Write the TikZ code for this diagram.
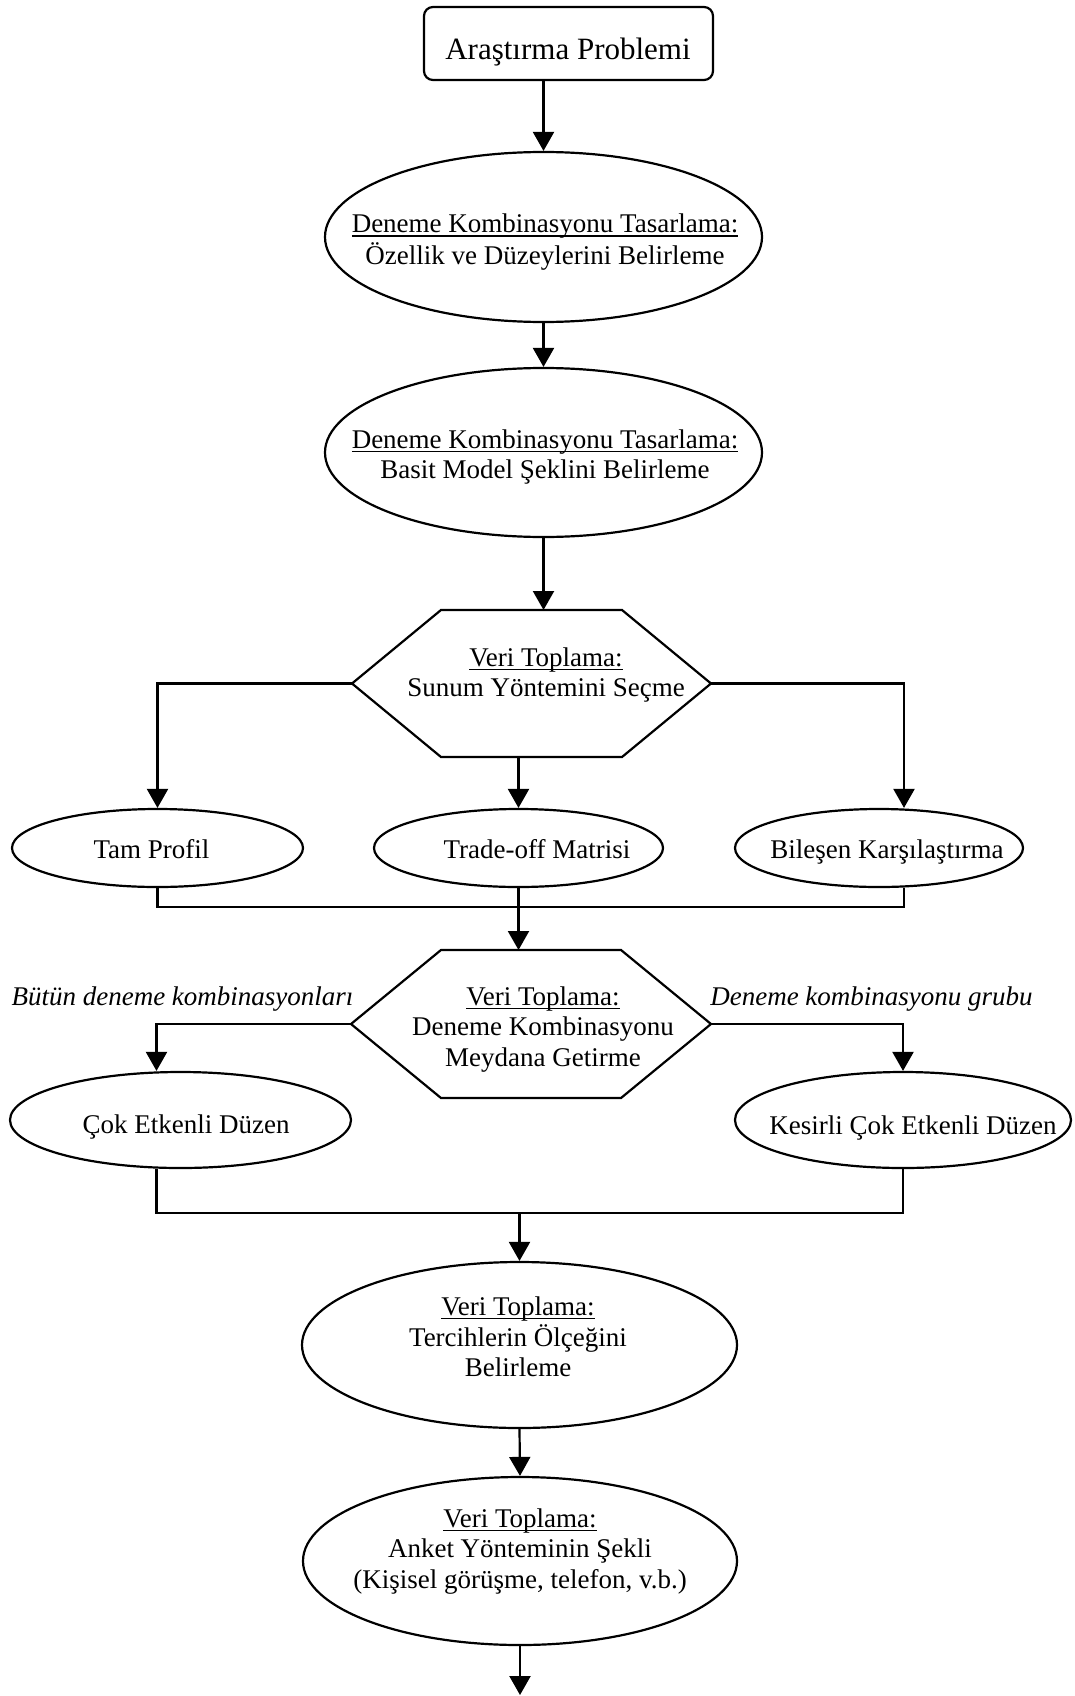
\documentclass[tikz,border=0pt]{standalone}
\usepackage{fontspec}
\setmainfont{Liberation Serif}
\usetikzlibrary{shapes.geometric,arrows.meta}
\newsavebox\ulbox
\newcommand\ulin[1]{\sbox\ulbox{#1}\rlap{\rule[-4pt]{\wd\ulbox}{1.5pt}}\usebox\ulbox}
\newcommand\mls[1]{\begin{tabular}[t]{@{}c@{}}#1\end{tabular}}
\begin{document}
\begin{tikzpicture}[x=1pt,y=-1pt,
  every node/.style={inner sep=0pt},
  ln/.style={line width=2.2pt},
  arr/.style={ln,-{Triangle[length=19pt,width=21pt]}},
  shp/.style={draw,line width=2.2pt},
  ell/.style={shp,ellipse},
  hexbox/.style={inner sep=0pt,outer sep=0pt},
  txt/.style={font=\fontsize{27}{30.5}\selectfont,anchor=base},
  itxt/.style={font=\fontsize{27}{30.5}\selectfont\itshape,anchor=base},
]
\useasboundingbox (0,0) rectangle (1074,1696);
\fill[white] (0,0) rectangle (1074,1696);

% top box
\node[shp,rounded corners=9pt,minimum width=289pt,minimum height=73pt] (tb) at (568.5,43.5) {};
\node[font=\fontsize{31}{36}\selectfont,anchor=base] (tbt) at (568,60) {Araştırma Problemi};

% ellipse 1
\node[ell,minimum width=437pt,minimum height=170pt] (e1) at (543.5,237) {};
\node[txt] (e1t) at (545,233) {\mls{\ulin{Deneme Kombinasyonu Tasarlama:}\\Özellik ve Düzeylerini Belirleme}};

% ellipse 2
\node[ell,minimum width=437pt,minimum height=169pt] (e2) at (543.5,452.5) {};
\node[txt] (e2t) at (545,448) {\mls{\ulin{Deneme Kombinasyonu Tasarlama:}\\Basit Model Şeklini Belirleme}};

% hexagon 1
\node[hexbox,minimum width=359pt,minimum height=147pt] (h1) at (531.5,683.5) {};
\draw[ln] (h1.west) -- ([xshift=89pt]h1.north west) -- ([xshift=-89pt]h1.north east)
  -- (h1.east) -- ([xshift=-89pt]h1.south east) -- ([xshift=89pt]h1.south west) -- cycle;
\node[txt] (h1t) at (546,666) {\mls{\ulin{Veri Toplama:}\\Sunum Yöntemini Seçme}};

% row of three ellipses
\node[ell,minimum width=291pt,minimum height=78pt] (tp) at (157.5,848) {};
\node[txt] (tpt) at (151.5,858) {Tam Profil};
\node[ell,minimum width=289pt,minimum height=78pt] (to) at (518.5,848) {};
\node[txt] (tot) at (537,858) {Trade-off Matrisi};
\node[ell,minimum width=288pt,minimum height=78pt] (bk) at (879,848) {};
\node[txt] (bkt) at (887,858) {Bileşen Karşılaştırma};

% hexagon 2
\node[hexbox,minimum width=360pt,minimum height=148pt] (h2) at (531,1024) {};
\draw[ln] (h2.west) -- ([xshift=90pt]h2.north west) -- ([xshift=-90pt]h2.north east)
  -- (h2.east) -- ([xshift=-90pt]h2.south east) -- ([xshift=90pt]h2.south west) -- cycle;
\node[txt] (h2t) at (543,1005) {\mls{\ulin{Veri Toplama:}\\Deneme Kombinasyonu\\Meydana Getirme}};

% side labels
\node[itxt] (lbl) at (182.5,1005) {Bütün deneme kombinasyonları};
\node[itxt] (lbr) at (871.5,1005) {Deneme kombinasyonu grubu};

% two ellipses
\node[ell,minimum width=341pt,minimum height=96pt] (ce) at (180.5,1120) {};
\node[txt] (cet) at (186,1133) {Çok Etkenli Düzen};
\node[ell,minimum width=336pt,minimum height=96pt] (ke) at (903,1120) {};
\node[txt] (ket) at (913,1134) {Kesirli Çok Etkenli Düzen};

% ellipse 3
\node[ell,minimum width=435pt,minimum height=166pt] (e3) at (519.5,1345) {};
\node[txt] (e3t) at (518,1315) {\mls{\ulin{Veri Toplama:}\\Tercihlerin Ölçeğini\\Belirleme}};

% ellipse 4
\node[ell,minimum width=434pt,minimum height=168pt] (e4) at (520,1561) {};
\node[txt] (e4t) at (520,1527) {\mls{\ulin{Veri Toplama:}\\Anket Yönteminin Şekli\\(Kişisel görüşme, telefon, v.b.)}};

% connectors
\draw[arr] (e1.north |- tb.south) -- (e1.north);
\draw[arr] (e1.south) -- (e2.north);
\draw[arr] (e2.south) -- (e2.south |- h1.north);
\draw[arr] (h1.west) -| (tp.north);
\draw[arr] (to.north |- h1.south) -- (to.north);
\draw[arr] (h1.east) -| ([xshift=25pt]bk.north);

\coordinate (j1) at (to.south |- 0,907);
\draw[ln] (tp.south) |- (j1);
\draw[ln] ([xshift=25pt]bk.south) |- (j1);
\draw[ln] (to.south) -- (j1);
\draw[arr] (j1) -- (j1 |- h2.north);

\draw[arr] (h2.west) -| ([xshift=-24pt]ce.north);
\draw[arr] (h2.east) -| (ke.north);

\coordinate (j2) at (e3.north |- 0,1213);
\draw[ln] ([xshift=-24pt]ce.south) |- (j2);
\draw[ln] (ke.south) |- (j2);
\draw[arr] (j2) -- (e3.north);
\draw[arr] (e3.south) -- (e4.north);
\coordinate (end) at (e4.south |- 0,1695);
\draw[arr] (e4.south) -- (end);
\end{tikzpicture}
\end{document}
